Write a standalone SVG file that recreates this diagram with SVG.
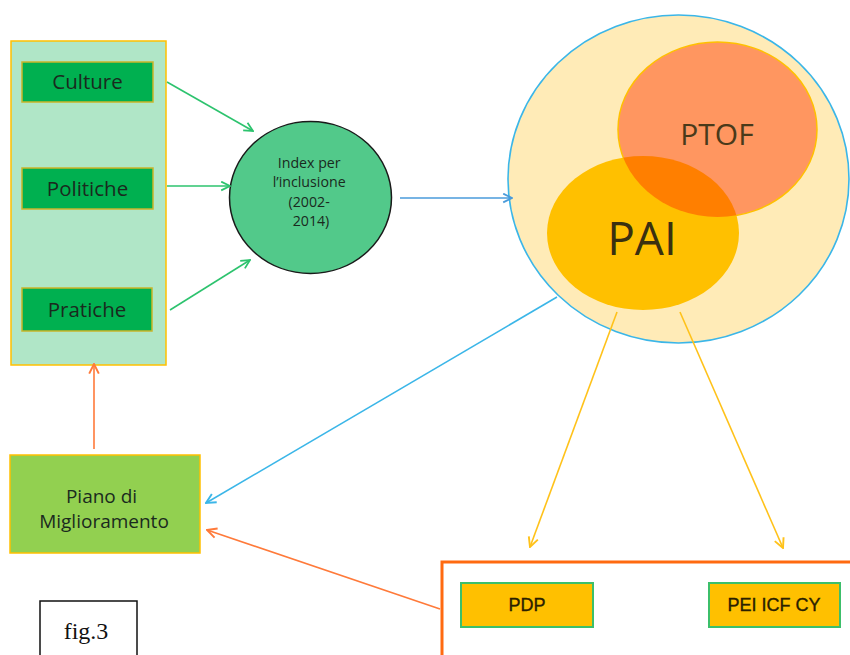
<svg xmlns="http://www.w3.org/2000/svg" width="850" height="655" viewBox="0 0 850 655">
  <style>
    .sans { font-family: "Open Sans", "Noto Sans", sans-serif; }
    .arial { font-family: "Liberation Sans", Arial, sans-serif; }
    .serif { font-family: "Liberation Serif", "Times New Roman", serif; }
    .dim { fill: #1a2a1e; text-anchor: middle; }
    .dimension { fill: #00B050; stroke: #C9B52A; stroke-width: 1.5; }
    .doc { fill: #FFC000; stroke: #3CBF6A; stroke-width: 2; }
    .line { fill: none; stroke-width: 1.6; }
  </style>
  <defs>
    <marker id="ah-green" viewBox="0 0 10 10" refX="9" refY="5" markerWidth="11" markerHeight="11" markerUnits="userSpaceOnUse" orient="auto">
      <path d="M1,1 L9,5 L1,9" fill="none" stroke="#2DC36E" stroke-width="1.6"/>
    </marker>
    <marker id="ah-blue" viewBox="0 0 10 10" refX="9" refY="5" markerWidth="11" markerHeight="11" markerUnits="userSpaceOnUse" orient="auto">
      <path d="M1,1 L9,5 L1,9" fill="none" stroke="#4A9BDB" stroke-width="1.6"/>
    </marker>
    <marker id="ah-sky" viewBox="0 0 10 10" refX="9" refY="5" markerWidth="12" markerHeight="12" markerUnits="userSpaceOnUse" orient="auto">
      <path d="M1,1 L9,5 L1,9" fill="none" stroke="#3BB6E8" stroke-width="1.6"/>
    </marker>
    <marker id="ah-yellow" viewBox="0 0 10 10" refX="9" refY="5" markerWidth="12" markerHeight="12" markerUnits="userSpaceOnUse" orient="auto">
      <path d="M1,1 L9,5 L1,9" fill="none" stroke="#FFC21A" stroke-width="1.6"/>
    </marker>
    <marker id="ah-orange" viewBox="0 0 10 10" refX="9" refY="5" markerWidth="12" markerHeight="12" markerUnits="userSpaceOnUse" orient="auto">
      <path d="M1,1 L9,5 L1,9" fill="none" stroke="#FF7A3A" stroke-width="1.6"/>
    </marker>
    <clipPath id="pai-clip">
      <ellipse cx="643" cy="233" rx="96" ry="77"/>
    </clipPath>
  </defs>

  <!-- Index dimensions panel -->
  <g id="dimensioni">
    <rect x="11" y="41" width="155" height="324" fill="#B0E6C7" stroke="#FFC000" stroke-width="1.5"/>
  </g>
  <g id="culture">
    <rect class="dimension" x="22" y="62" width="131" height="40"/>
    <text class="sans dim" x="87.5" y="89" font-size="20.5">Culture</text>
  </g>
  <g id="politiche">
    <rect class="dimension" x="22" y="168" width="131" height="41"/>
    <text class="sans dim" x="87.5" y="196" font-size="20.5">Politiche</text>
  </g>
  <g id="pratiche">
    <rect class="dimension" x="22" y="288" width="130" height="43"/>
    <text class="sans dim" x="87" y="317" font-size="20.5">Pratiche</text>
  </g>

  <!-- Index per l'inclusione -->
  <g id="index">
    <ellipse cx="310.5" cy="197.5" rx="81" ry="76" fill="#52C98A" stroke="#1a1a1a" stroke-width="1.5"/>
    <text class="sans dim" font-size="14.2">
      <tspan x="311" y="167.5">Index per</tspan>
      <tspan x="311" y="187">l’inclusione</tspan>
      <tspan x="311" y="206.5">(2002-</tspan>
      <tspan x="311" y="226">2014)</tspan>
    </text>
  </g>

  <!-- Scuola: PTOF / PAI -->
  <g id="scuola">
    <ellipse cx="678.5" cy="179" rx="170.5" ry="164" fill="#FFEBB7" stroke="#3BB6E8" stroke-width="1.6"/>
  </g>
  <g id="pai">
    <ellipse cx="643" cy="233" rx="96" ry="77" fill="#FFC000"/>
  </g>
  <g id="ptof">
    <ellipse cx="717.5" cy="129.5" rx="99.5" ry="87.5" fill="#FF9660" stroke="#FFC000" stroke-width="1.5"/>
    <ellipse cx="717.5" cy="129.5" rx="99.5" ry="87.5" fill="#FF7F00" clip-path="url(#pai-clip)"/>
    <text class="sans" x="717" y="145" font-size="30" fill="#4a3a1a" text-anchor="middle">PTOF</text>
  </g>
  <text class="sans" x="642" y="255" font-size="46" fill="#3a3010" text-anchor="middle">PAI</text>

  <!-- Piano di Miglioramento -->
  <g id="piano">
    <rect x="10" y="455" width="190" height="98" fill="#92D050" stroke="#FFC000" stroke-width="1.5"/>
    <text class="sans dim" font-size="19">
      <tspan x="104" y="503">Piano di</tspan>
      <tspan x="104" y="528">Miglioramento</tspan>
    </text>
  </g>

  <!-- Documenti individuali -->
  <g id="documenti">
    <rect x="442" y="562" width="420" height="110" fill="#FFFFFF" stroke="#FF6A10" stroke-width="3"/>
  </g>
  <g id="pdp">
    <rect class="doc" x="461" y="583" width="132" height="44"/>
    <text class="arial" x="527" y="610.5" font-size="18" fill="#2a2000" stroke="#2a2000" stroke-width="0.35" text-anchor="middle">PDP</text>
  </g>
  <g id="pei">
    <rect class="doc" x="709" y="583" width="131" height="44"/>
    <text class="arial" x="774" y="610.5" font-size="18" fill="#2a2000" stroke="#2a2000" stroke-width="0.35" text-anchor="middle">PEI ICF CY</text>
  </g>

  <!-- Caption -->
  <g id="fig">
    <rect x="40" y="601" width="97" height="70" fill="#FFFFFF" stroke="#111111" stroke-width="1.5"/>
    <text class="serif" x="86" y="639" font-size="24" fill="#111111" text-anchor="middle">fig.3</text>
  </g>

  <!-- Connectors -->
  <g id="connectors">
    <line class="line" x1="167" y1="82" x2="253" y2="131" stroke="#2DC36E" marker-end="url(#ah-green)"/>
    <line class="line" x1="167" y1="186" x2="230" y2="186" stroke="#2DC36E" marker-end="url(#ah-green)"/>
    <line class="line" x1="170" y1="310" x2="250" y2="260" stroke="#2DC36E" marker-end="url(#ah-green)"/>
    <line class="line" x1="400" y1="198" x2="512" y2="198" stroke="#4A9BDB" marker-end="url(#ah-blue)"/>
    <line class="line" x1="557" y1="297" x2="206" y2="503" stroke="#3BB6E8" marker-end="url(#ah-sky)"/>
    <line class="line" x1="617" y1="312" x2="530" y2="547" stroke="#FFC21A" marker-end="url(#ah-yellow)"/>
    <line class="line" x1="680" y1="312" x2="783" y2="548" stroke="#FFC21A" marker-end="url(#ah-yellow)"/>
    <line class="line" x1="94" y1="449" x2="94" y2="364" stroke="#FF7A3A" marker-end="url(#ah-orange)"/>
    <line class="line" x1="440" y1="609" x2="207" y2="530" stroke="#FF7A3A" marker-end="url(#ah-orange)"/>
  </g>
</svg>
